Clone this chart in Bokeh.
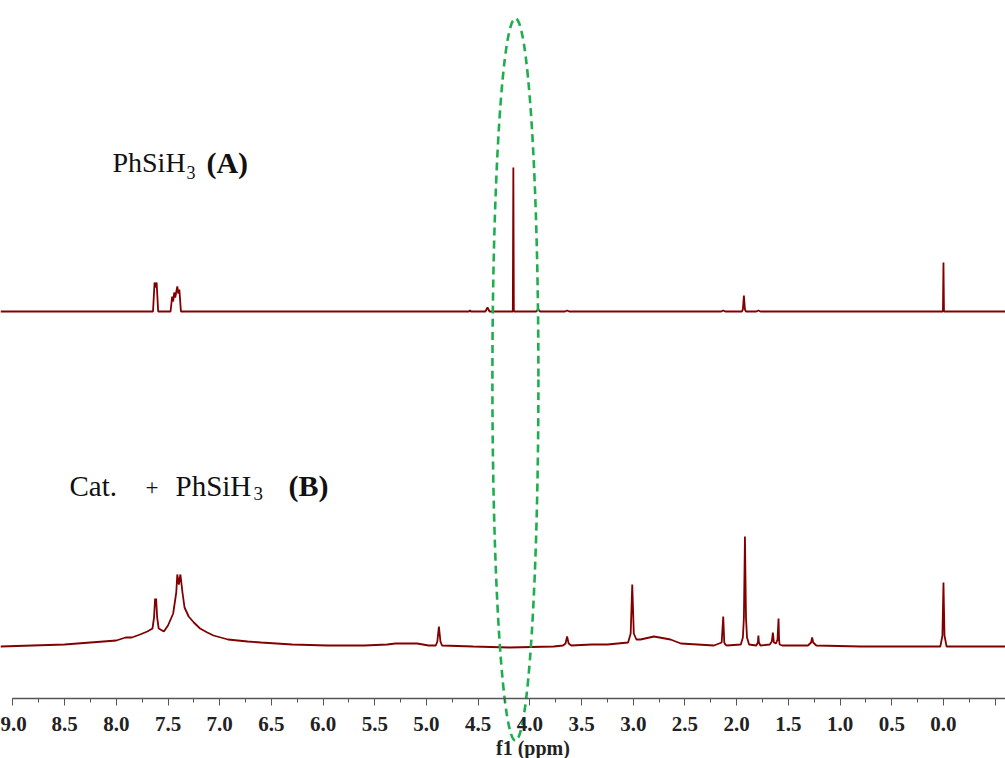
from bokeh.plotting import figure
from bokeh.models import Range1d, LinearAxis, SingleIntervalTicker, CustomJSTickFormatter
from bokeh.core.properties import value
from bokeh.embed import file_html
from bokeh.resources import INLINE

# Spectrum A (PhSiH3): chemical shift (ppm) and intensity above baseline
ppm_a = [9.12, 7.67, 7.645, 7.63, 7.62, 7.61, 7.595, 7.50, 7.475, 7.46, 7.45, 7.44, 7.43,
         7.41, 7.40, 7.39, 7.375, 7.36, 4.62, 4.59, 4.58, 4.57, 4.43, 4.41, 4.39,
         4.18, 4.165, 4.16, 4.155, 4.14, 3.94, 3.92, 3.90, 3.66, 3.64, 3.62,
         2.15, 2.13, 2.11, 1.95, 1.94, 1.93, 1.92, 1.91, 1.81, 1.79, 1.77,
         0.02, 0.005, 0.0, -0.005, -0.02, -0.6]
int_a = [0, 0, 0, 29, 24, 29, 0, 0, 0, 15, 10, 19, 14,
         25, 18, 22, 0, 0, 0, 0, 1, 0, 0, 4, 0,
         0, 0, 144, 0, 0, 0, 2, 0, 0, 1, 0,
         0, 1, 0, 0, 2, 16, 2, 0, 0, 1, 0,
         0, 0, 49, 0, 0, 0]

# Spectrum B (Cat. + PhSiH3)
ppm_b = [9.12, 8.5, 8.0, 7.91, 7.85, 7.77, 7.70, 7.65, 7.635, 7.625, 7.62, 7.615, 7.605, 7.59,
         7.54, 7.50, 7.45, 7.42, 7.41, 7.395, 7.38, 7.36, 7.34, 7.30, 7.25, 7.19, 7.12, 7.06, 6.92,
         6.73, 6.6, 6.3, 5.96, 5.6, 5.38, 5.30, 5.20, 5.09, 4.98, 4.91, 4.895, 4.88, 4.865, 4.85,
         4.55, 4.2, 3.77, 3.68, 3.655, 3.64, 3.625, 3.60, 3.40, 3.25, 3.05, 3.025, 3.01,
         2.995, 2.97, 2.93, 2.80, 2.64, 2.54, 2.22, 2.145, 2.13, 2.12, 2.11, 2.095,
         1.96, 1.94, 1.93, 1.92, 1.91, 1.90, 1.88, 1.81, 1.795, 1.79, 1.785, 1.77,
         1.68, 1.66, 1.65, 1.64, 1.62, 1.605, 1.595, 1.59, 1.585, 1.56, 1.31, 1.28,
         1.27, 1.26, 1.23, 0.8, 0.03, 0.01, 0.0, -0.01, -0.03, -0.2, -0.6]
int_b = [1, 3, 7, 10, 10, 13, 16, 19, 30, 49, 42, 49, 30, 19,
         16, 22, 34, 55, 73, 63, 73, 55, 40, 31, 25, 19, 15, 12, 8,
         6, 5, 3, 2, 2, 3, 4, 4, 4, 2, 2, 6, 21, 6, 2,
         1, 0, 1, 2, 4, 11, 4, 2, 3, 3, 5, 14, 63,
         14, 8, 8, 11, 8, 4, 2, 5, 31, 5, 3, 2,
         3, 10, 30, 111, 30, 10, 3, 2, 5, 12, 5, 2,
         3, 6, 15, 5, 4, 8, 29, 8, 3, 2, 2, 5,
         10, 5, 2, 1, 1, 12, 65, 12, 1, 1, 1]

# Labels
label_a = ["PhSiH", "3", "(A)"]
label_b = ["Cat.", "+", "PhSiH", "3", "(B)"]
axis_title = "f1 (ppm)"

RED = "#800000"
GREEN = "#1fae4e"
OFF_A = 387
OFF_B = 51

p = figure(width=1005, height=758, output_backend="svg", toolbar_location=None,
           x_range=Range1d(9.120, -0.600), y_range=Range1d(-60, 698),
           x_axis_location=None, y_axis_location=None, min_border=0)
p.grid.visible = False
p.outline_line_color = None
p.background_fill_color = "white"

p.line(ppm_a, [v + OFF_A for v in int_a], line_color=RED, line_width=1.8)
p.line(ppm_b, [v + OFF_B for v in int_b], line_color=RED, line_width=1.8)

# dashed highlight ellipse around the Si-H signal
p.ellipse(x=[4.14], y=[319], width=[0.445], height=[722], fill_color=None,
          line_color=GREEN, line_width=2.6, line_dash="8 5")

ax = LinearAxis(fixed_location=0, bounds=(-0.6, 9.0),
                ticker=SingleIntervalTicker(interval=0.5, num_minor_ticks=2),
                formatter=CustomJSTickFormatter(code="return tick < -0.25 ? '' : tick.toFixed(1)"))
ax.axis_line_color = "#555555"
ax.axis_line_width = 1.3
ax.major_tick_line_color = "#555555"
ax.minor_tick_line_color = "#555555"
ax.major_tick_out = 7
ax.major_tick_in = 0
ax.minor_tick_out = 4
ax.minor_tick_in = 0
ax.major_label_standoff = 11
ax.major_label_text_font = "Liberation Serif"
ax.major_label_text_font_style = "bold"
ax.major_label_text_font_size = "21px"
ax.major_label_text_color = "#222222"
p.add_layout(ax, "below")

serif = value("Liberation Serif")
# label A
p.text(x=[8.037], y=[536], text=[label_a[0]], text_font=serif, text_font_size="28px",
       text_baseline="middle", text_align="left", text_color="#111111")
p.text(x=[7.321], y=[526], text=[label_a[1]], text_font=serif, text_font_size="18px",
       text_baseline="middle", text_align="left", text_color="#111111")
p.text(x=[7.128], y=[536], text=[label_a[2]], text_font=serif, text_font_size="30px",
       text_font_style="bold", text_baseline="middle", text_align="left", text_color="#111111")
# label B
p.text(x=[8.453], y=[213], text=[label_b[0]], text_font=serif, text_font_size="29px",
       text_baseline="middle", text_align="left", text_color="#111111")
p.text(x=[7.718], y=[211], text=[label_b[1]], text_font=serif, text_font_size="23px",
       text_baseline="middle", text_align="left", text_color="#111111")
p.text(x=[7.427], y=[213], text=[label_b[2]], text_font=serif, text_font_size="29px",
       text_baseline="middle", text_align="left", text_color="#111111")
p.text(x=[6.673], y=[205], text=[label_b[3]], text_font=serif, text_font_size="19px",
       text_baseline="middle", text_align="left", text_color="#111111")
p.text(x=[6.335], y=[213], text=[label_b[4]], text_font=serif, text_font_size="30px",
       text_font_style="bold", text_baseline="middle", text_align="left", text_color="#111111")

# axis title
p.text(x=[3.97], y=[-49], text=[axis_title], text_font=serif, text_font_size="20px",
       text_font_style="bold", text_baseline="middle", text_align="center", text_color="#222222")

open("out.html", "w").write(file_html(p, INLINE))
